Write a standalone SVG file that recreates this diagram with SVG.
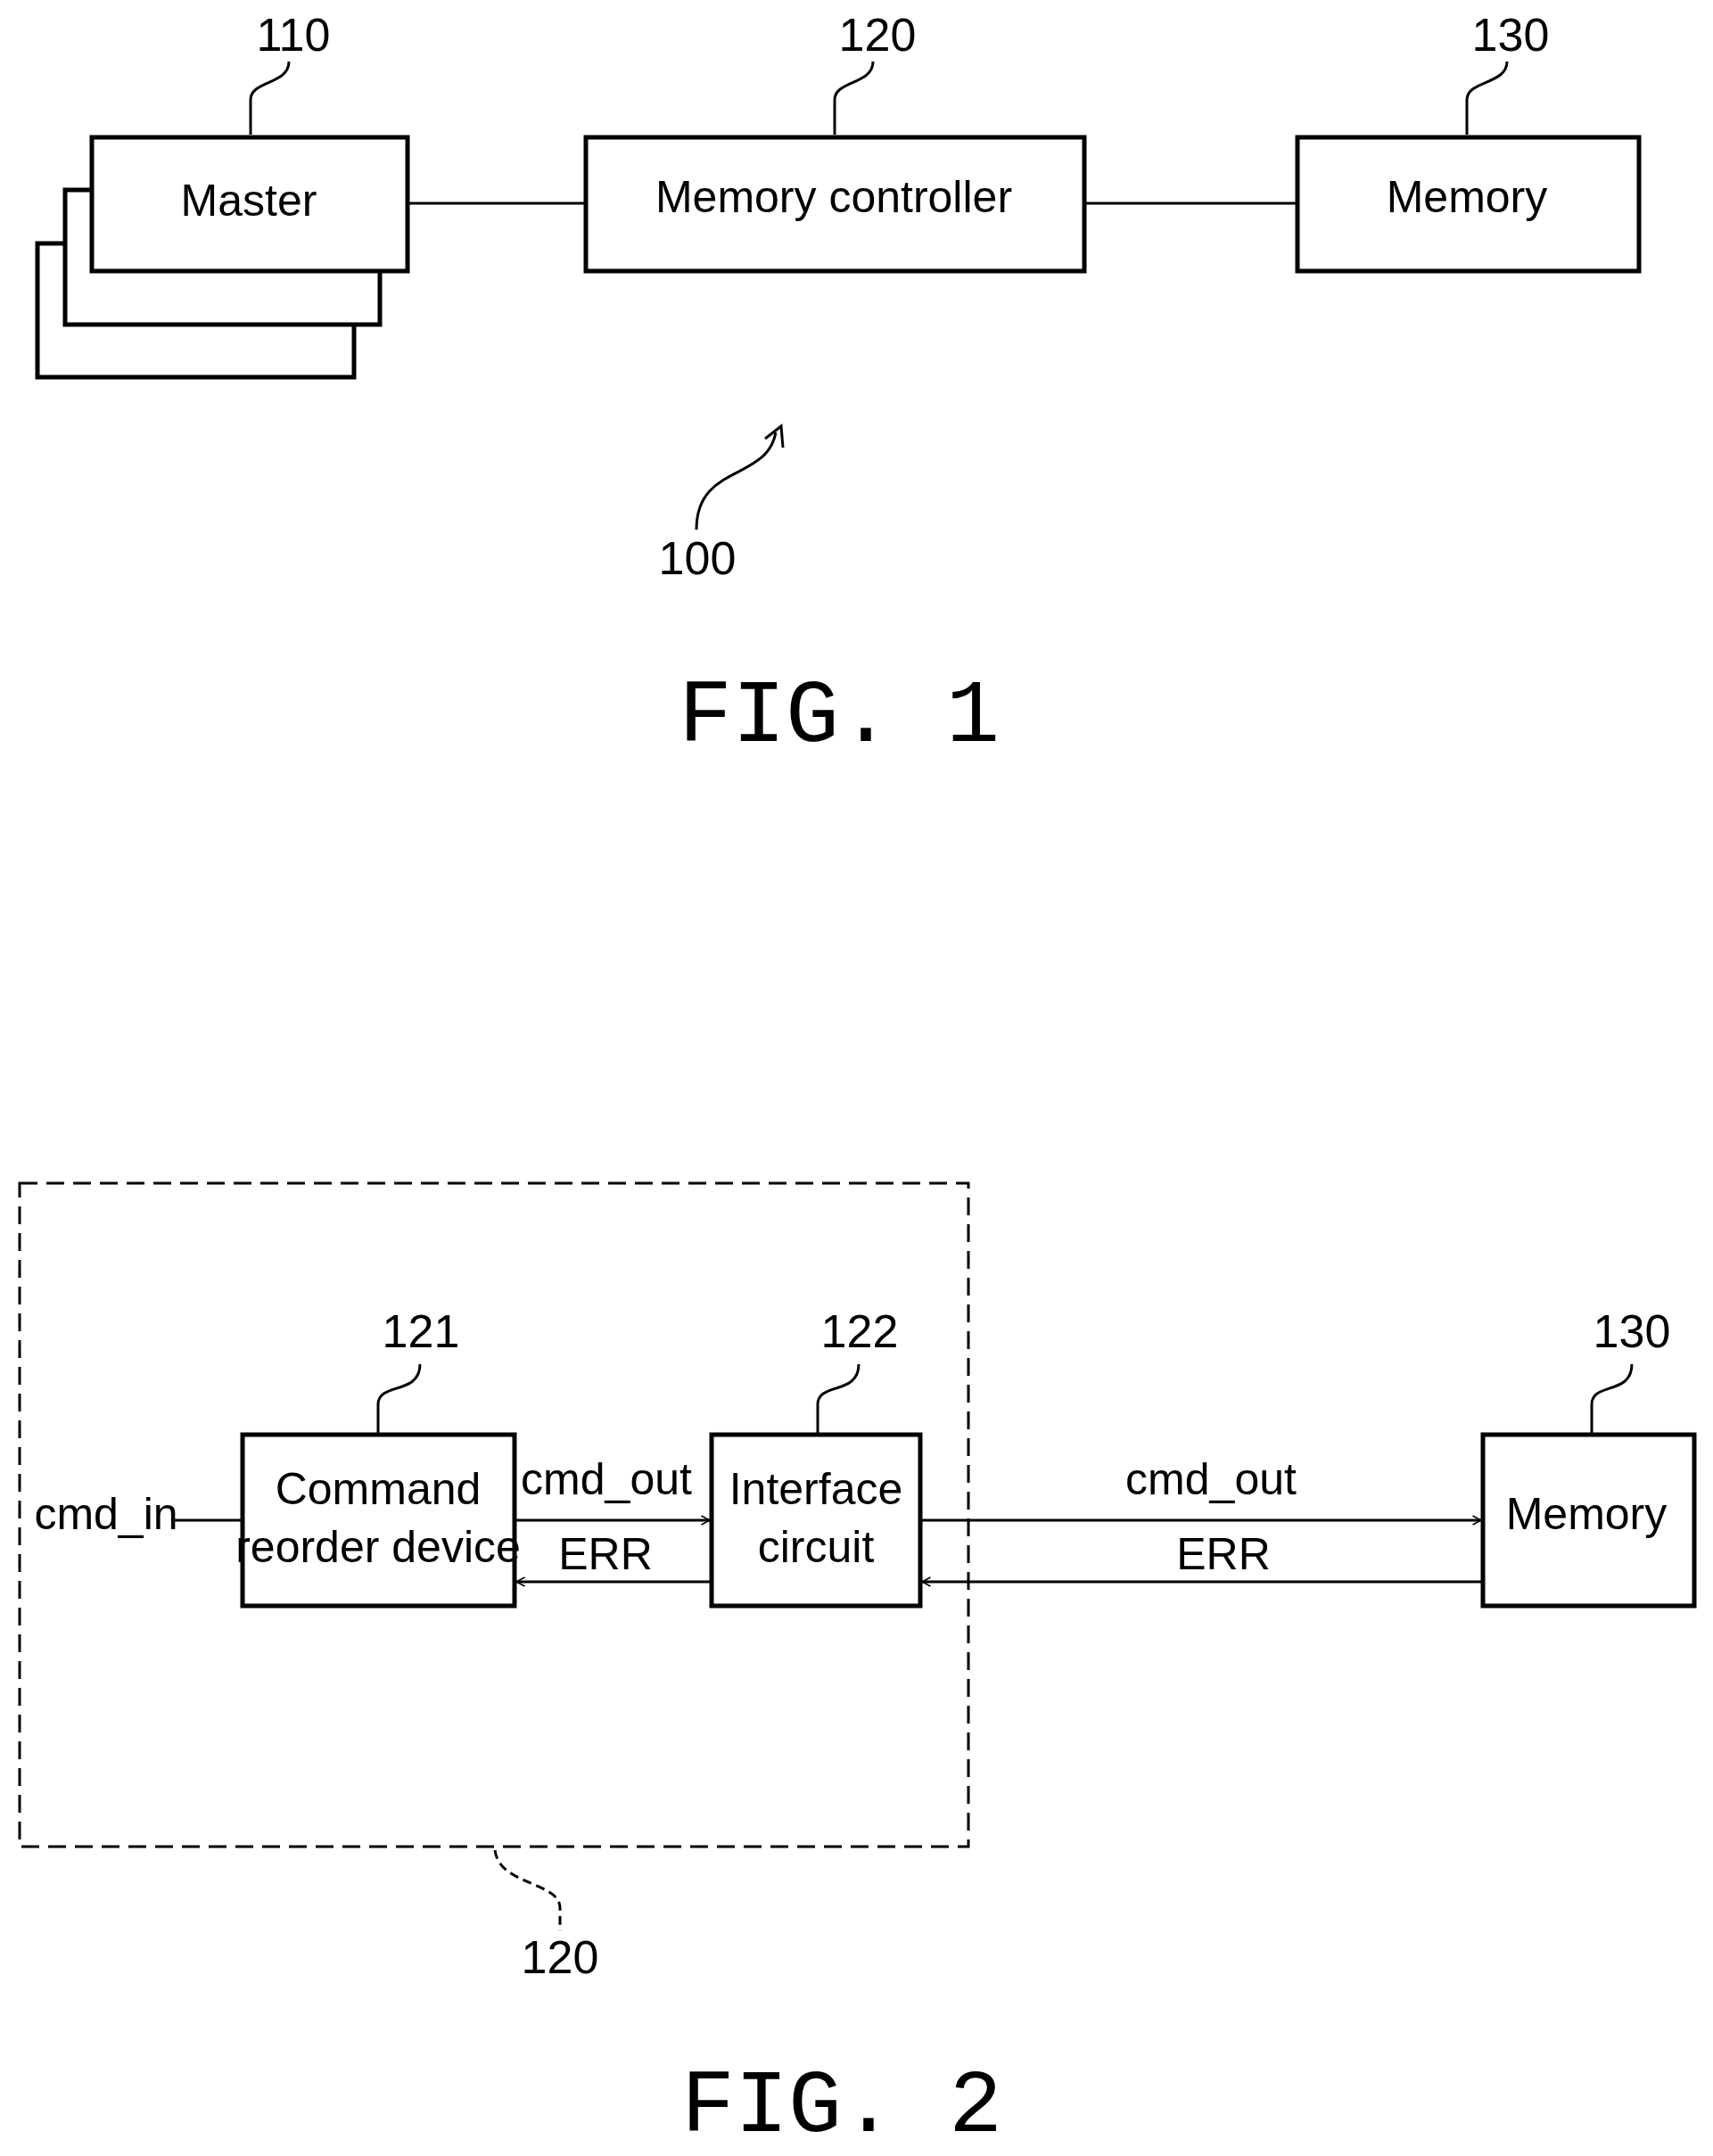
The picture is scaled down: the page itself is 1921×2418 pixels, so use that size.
<svg xmlns="http://www.w3.org/2000/svg" width="1921" height="2418" viewBox="0 0 1921 2418">
<style>
.box{fill:#fff;stroke:#000;stroke-width:5}
.ln{fill:none;stroke:#000;stroke-width:3}
.t{font-family:"Liberation Sans",Arial,sans-serif;font-size:50px;text-anchor:middle;dominant-baseline:middle}
.n{font-family:"Liberation Sans",Arial,sans-serif;font-size:52px;text-anchor:middle;dominant-baseline:middle}
.fig{font-family:"Liberation Mono","Courier New",monospace;font-size:100px;text-anchor:middle;dominant-baseline:middle}
</style>
<defs>
<marker id="a" viewBox="0 0 20 20" refX="19" refY="10" markerWidth="10" markerHeight="10" markerUnits="userSpaceOnUse" orient="auto" overflow="visible">
<path d="M0,0 L19,10 L0,20" fill="none" stroke="#000" stroke-width="3"/>
</marker>
</defs>
<rect width="1921" height="2418" fill="#fff"/>
<g id="connectors">
<line class="ln" x1="457" y1="228" x2="657" y2="228"/>
<line class="ln" x1="1216" y1="228" x2="1455" y2="228"/>
<line class="ln" x1="193" y1="1705" x2="272" y2="1705"/>
<line class="ln" x1="577" y1="1705" x2="796" y2="1705" marker-end="url(#a)"/>
<line class="ln" x1="798" y1="1774" x2="579" y2="1774" marker-end="url(#a)"/>
<line class="ln" x1="1032" y1="1705" x2="1661" y2="1705" marker-end="url(#a)"/>
<line class="ln" x1="1663" y1="1774" x2="1034" y2="1774" marker-end="url(#a)"/>
<path class="ln" d="M281,151 L281,112 C281,90 324,95 324,69"/>
<path class="ln" d="M936,151 L936,112 C936,90 979,95 979,69"/>
<path class="ln" d="M1645,151 L1645,112 C1645,90 1690,95 1690,69"/>
<path class="ln" d="M781,594 C781,520 860,540 870,485"/>
<path class="ln" d="M858,492 L876,478 L878,502"/>
<path class="ln" d="M424,1609 L424,1575 C424,1550 471,1565 471,1530"/>
<path class="ln" d="M917,1609 L917,1575 C917,1550 963,1565 963,1530"/>
<path class="ln" d="M1785,1609 L1785,1575 C1785,1550 1830,1565 1830,1530"/>
<path class="ln" d="M555,2075 C560,2115 628,2110 628,2140 L628,2165" stroke-dasharray="10,6"/>
</g>
<g id="master">
<rect class="box" x="42" y="273" width="355" height="150"/>
<rect class="box" x="73" y="213" width="353" height="151"/>
<rect class="box" x="103" y="154" width="354" height="150"/>
<text class="t" x="279" y="229">Master</text>
<text class="n" x="329" y="43">110</text>
</g>
<g id="mc">
<rect class="box" x="657" y="154" width="559" height="150"/>
<text class="t" x="935" y="225">Memory controller</text>
<text class="n" x="984" y="43">120</text>
</g>
<g id="mem1">
<rect class="box" x="1455" y="154" width="383" height="150"/>
<text class="t" x="1645" y="225">Memory</text>
<text class="n" x="1694" y="43">130</text>
</g>
<text class="n" x="782" y="630">100</text>
<text class="fig" x="941" y="805">FIG. 1</text>
<g id="mc2">
<rect x="22" y="1327" width="1064" height="744" fill="none" stroke="#000" stroke-width="3" stroke-dasharray="20,10"/>
<text class="n" x="628" y="2199">120</text>
</g>
<g id="cmdin"><text class="t" x="119" y="1702">cmd_in</text></g>
<g id="reorder">
<rect class="box" x="272" y="1609" width="305" height="192"/>
<text class="t" x="424" y="1674">Command</text>
<text class="t" x="424" y="1739">reorder device</text>
<text class="n" x="472" y="1497">121</text>
</g>
<g id="iface">
<rect class="box" x="798" y="1609" width="234" height="192"/>
<text class="t" x="915" y="1674">Interface</text>
<text class="t" x="915" y="1739">circuit</text>
<text class="n" x="964" y="1497">122</text>
</g>
<g id="mem2">
<rect class="box" x="1663" y="1609" width="237" height="192"/>
<text class="t" x="1779" y="1702">Memory</text>
<text class="n" x="1830" y="1497">130</text>
</g>
<text class="t" x="680" y="1663">cmd_out</text>
<text class="t" x="679" y="1747">ERR</text>
<text class="t" x="1358" y="1663">cmd_out</text>
<text class="t" x="1372" y="1747">ERR</text>
<text class="fig" x="944" y="2364">FIG. 2</text>
</svg>
